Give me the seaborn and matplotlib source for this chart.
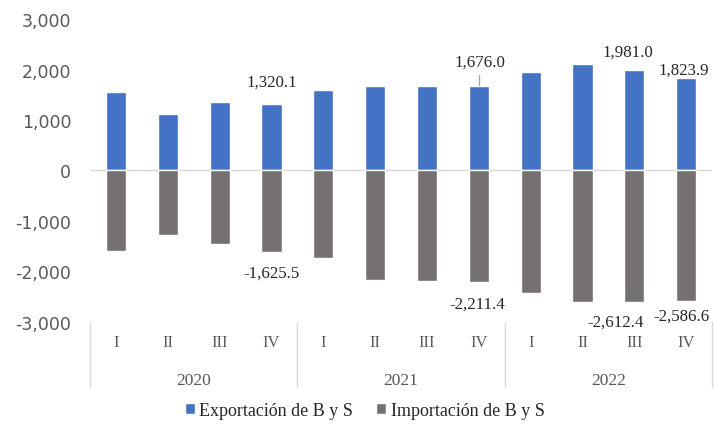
import pandas as pd
import matplotlib
matplotlib.use("Agg")
import matplotlib.pyplot as plt
import matplotlib.transforms as mtransforms
import seaborn as sns

years = ["2020", "2021", "2022"]
quarters = ["I", "II", "III", "IV"]
exportacion = [1560, 1127, 1347, 1320.1, 1593, 1680, 1682, 1676.0, 1958, 2110, 1981.0, 1823.9]
importacion = [-1588, -1280, -1460, -1625.5, -1740, -2177, -2200, -2211.4, -2425, -2610, -2612.4, -2586.6]
labeled = [3, 7, 10, 11]

periods = [f"{y}-{q}" for y in years for q in quarters]
df = pd.DataFrame({
    "periodo": periods * 2,
    "valor": exportacion + importacion,
    "serie": ["Exportación de B y S"] * 12 + ["Importación de B y S"] * 12,
})

sns.set_style("white")
plt.rcParams["font.family"] = ["DejaVu Sans"]

fig = plt.figure(figsize=(7.15, 4.27), dpi=100)
ax = fig.add_axes([0.126, 0.244, 0.870, 0.709])

sns.barplot(data=df, x="periodo", y="valor", hue="serie", order=periods,
            dodge=False, width=0.39, palette=["#4472C4", "#767171"],
            saturation=1, ax=ax, legend=True)

ax.set_xlim(-0.5, 11.5)
ax.set_ylim(-3000, 3000)
ax.set_yticks(range(-3000, 3001, 1000))
ax.set_yticklabels([f"{v:,}" for v in range(-3000, 3001, 1000)])
ax.tick_params(axis="y", length=0, pad=13.5, labelsize=12.5, labelcolor="#595959")
ax.set_xticks([])
ax.set_xlabel("")
ax.set_ylabel("")
for s in ax.spines.values():
    s.set_visible(False)
ax.axhline(0, color="#D9D9D9", lw=1, zorder=0)

serif = ["Liberation Serif", "DejaVu Serif"]

# value labels (offsets in data units from each labeled bar)
offsets = {
    3: ((0.0, 446), (0.0, -409)),
    7: ((0.02, 490), (-0.04, -423)),
    10: ((-0.13, 380), (-0.36, -382)),
    11: ((-0.05, 168), (-0.1, -287)),
}
for i in labeled:
    (dxe, dye), (dxi, dyi) = offsets[i]
    ax.text(i + dxe, exportacion[i] + dye, f"{exportacion[i]:,.1f}", ha="center", va="center",
            fontsize=12.2, color="#262626", family=serif)
    ax.text(i + dxi, importacion[i] + dyi, f"{importacion[i]:,.1f}", ha="center", va="center",
            fontsize=12.2, color="#262626", family=serif)
# leader line for 2021 IV
ax.plot([7, 7], [exportacion[7] + 20, exportacion[7] + 210], color="#A6A6A6", lw=1)

# two-level category axis
trans = mtransforms.blended_transform_factory(ax.transData, ax.transAxes)
ppx = 1 / (0.709 * 427)
for i, p in enumerate(periods):
    ax.text(i, -20 * ppx, p.split("-")[1], transform=trans, ha="center", va="center",
            fontsize=12, color="#595959", family=serif, clip_on=False)
for k, y in enumerate(years):
    ax.text(k * 4 + 1.5, -58 * ppx, y, transform=trans, ha="center", va="center",
            fontsize=12.5, color="#595959", family=serif, clip_on=False)
for xb in [-0.5, 3.5, 7.5, 11.5]:
    ax.plot([xb, xb], [0, -65 * ppx], transform=trans, color="#D9D9D9", lw=1, clip_on=False)

handles, labels = ax.get_legend_handles_labels()
ax.get_legend().remove()
fig.legend(handles, labels, loc="center", bbox_to_anchor=(0.51, 0.037), ncol=2, frameon=False,
           handlelength=0.55, handleheight=0.55, handletextpad=0.25, columnspacing=1.3,
           prop={"family": serif, "size": 13})

fig.savefig("out.png", dpi=100)
